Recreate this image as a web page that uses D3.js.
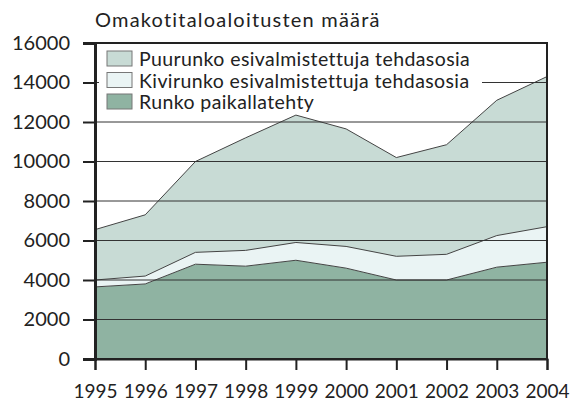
<!DOCTYPE html>
<html>
<head>
<meta charset="utf-8">
<script src="https://cdn.jsdelivr.net/npm/d3@7"></script>
<style>
  body { margin: 0; background: #fff; }
  svg text { font-family: Lato, "Open Sans", sans-serif; fill: #222; }
</style>
</head>
<body>
<svg width="580" height="405"></svg>
<script>
// data
var years = [1995, 1996, 1997, 1998, 1999, 2000, 2001, 2002, 2003, 2004];
var runko = [3650, 3800, 4800, 4700, 5000, 4600, 4000, 4000, 4650, 4900];
var kivirunko = [350, 400, 600, 800, 900, 1100, 1200, 1300, 1600, 1800];
var puurunko = [2550, 3100, 4600, 5700, 6450, 5950, 5000, 5550, 6850, 7600];
var yTicks = [0, 2000, 4000, 6000, 8000, 10000, 12000, 14000, 16000];
var seriesNames = ["Puurunko esivalmistettuja tehdasosia", "Kivirunko esivalmistettuja tehdasosia", "Runko paikallatehty"];
var colors = {runko: "#8fb3a2", kivi: "#eaf4f4", puu: "#c8dbd5"};

var svg = d3.select("svg"),
    margin = {top: 43, right: 33, bottom: 46, left: 95},
    width = svg.attr("width") - margin.left - margin.right,
    height = svg.attr("height") - margin.top - margin.bottom,
    g = svg.append("g").attr("transform", "translate(" + margin.left + "," + margin.top + ")");

var xScale = d3.scaleLinear().domain([1995, 2004]).range([0, width]),
    yScale = d3.scaleLinear().domain([0, 16000]).range([height, 0]);

// stack the three series, bottom first
var table = years.map(function(y, i) {
  return {year: y, runko: runko[i], kivi: kivirunko[i], puu: puurunko[i]};
});
var stack = d3.stack().keys(["runko", "kivi", "puu"]);
var layers = stack(table);

var area = d3.area()
    .x(function(d) { return xScale(d.data.year); })
    .y0(function(d) { return yScale(d[0]); })
    .y1(function(d) { return yScale(d[1]); });

var topLine = d3.line()
    .x(function(d) { return xScale(d.data.year); })
    .y(function(d) { return yScale(d[1]); });

g.selectAll(".layer")
  .data(layers)
  .enter().append("path")
    .attr("class", "layer")
    .attr("d", area)
    .style("fill", function(d) { return colors[d.key]; });

g.selectAll(".edge")
  .data(layers)
  .enter().append("path")
    .attr("class", "edge")
    .attr("d", function(d) { return topLine(d); })
    .style("fill", "none")
    .style("stroke", "#444")
    .style("stroke-width", 1);

// horizontal grid
g.append("g")
    .attr("class", "grid")
    .selectAll("line")
    .data(yTicks.slice(1, -1))
    .enter().append("line")
      .attr("x1", 0)
      .attr("x2", width)
      .attr("y1", function(d) { return yScale(d); })
      .attr("y2", function(d) { return yScale(d); })
      .style("stroke", "#333")
      .style("stroke-width", 1);

// legend, with white background over the grid
var legend = g.append("g").attr("class", "legend");
legend.append("rect")
    .attr("x", 4).attr("y", 2)
    .attr("width", 383).attr("height", 66)
    .style("fill", "#fff");

var swatchFill = [colors.puu, colors.kivi, colors.runko];
var item = legend.selectAll(".item")
  .data(seriesNames)
  .enter().append("g")
    .attr("class", "item")
    .attr("transform", function(d, i) { return "translate(12," + (8 + i * 21.5) + ")"; });

item.append("rect")
    .attr("width", 25).attr("height", 15)
    .style("fill", function(d, i) { return swatchFill[i]; })
    .style("stroke", "#777")
    .style("stroke-width", 1);

item.append("text")
    .attr("x", 32)
    .attr("y", 15)
    .style("font-size", "19.5px")
    .style("letter-spacing", "0.4px")
    .text(function(d) { return d; });

// frame
g.append("rect")
    .attr("width", width).attr("height", height)
    .style("fill", "none")
    .style("stroke", "#222")
    .style("stroke-width", 2);

// axes
var yAxis = g.append("g")
    .attr("class", "axis axis--y")
    .call(d3.axisLeft(yScale).tickValues(yTicks).tickSize(12).tickPadding(13).tickFormat(d3.format("d")));
yAxis.select(".domain").style("stroke", "#222").style("stroke-width", 3);
yAxis.selectAll(".tick line").style("stroke", "#222").style("stroke-width", 2);
yAxis.selectAll("text").style("font-size", "20px").style("fill", "#222").style("font-family", "Lato, sans-serif");

var xAxis = g.append("g")
    .attr("class", "axis axis--x")
    .attr("transform", "translate(0," + height + ")")
    .call(d3.axisBottom(xScale).tickValues(years).tickSize(11).tickPadding(15).tickFormat(d3.format("d")));
xAxis.select(".domain").style("stroke", "#222").style("stroke-width", 2);
xAxis.selectAll(".tick line").style("stroke", "#222").style("stroke-width", 2);
xAxis.selectAll("text").style("font-size", "19px").style("fill", "#222").style("font-family", "Lato, sans-serif");

// title
svg.append("text")
    .attr("x", 95)
    .attr("y", 27)
    .style("font-size", "20px")
    .style("letter-spacing", "1.2px")
    .text("Omakotitaloaloitusten määrä");
</script>
</body>
</html>
